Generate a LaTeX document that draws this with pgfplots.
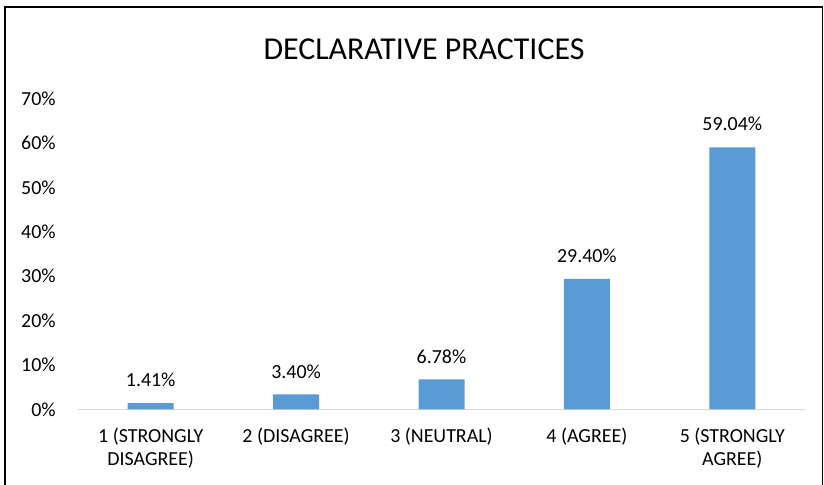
\documentclass[border=0pt]{standalone}
\usepackage{pgfplots}
\pgfplotsset{compat=1.18}
\usepackage{fontspec}
\setmainfont{Carlito}

\definecolor{barblue}{HTML}{5B9BD5}
\definecolor{gridgray}{HTML}{D9D9D9}

\begin{document}
\begin{tikzpicture}
% page area and chart frame
\path[use as bounding box] (0,0) rectangle (824bp,485bp);
\draw[line width=1.8bp] (5bp,-1bp) -- (5bp,478bp) -- (822.5bp,478bp) -- (822.5bp,-1bp);
% title
\node[anchor=base, font=\fontsize{32}{38}\selectfont] at (424bp,425bp) {DECLARATIVE PRACTICES};
\begin{axis}[
  at={(78bp,75.5bp)}, anchor=south west,
  scale only axis, width=727bp, height=310.9bp,
  xmin=-0.5, xmax=4.5, ymin=0, ymax=70,
  ybar, bar width=46bp,
  /pgf/number format/assume math mode=true,
  axis x line=bottom, axis y line=left,
  x axis line style={-, draw=gridgray, line width=1.3bp},
  y axis line style={draw=none},
  xtick style={draw=none}, ytick style={draw=none},
  ytick={0,10,...,70},
  yticklabel={\pgfmathprintnumber{\tick}\%},
  yticklabel style={font=\fontsize{20}{24}\selectfont, anchor=east, inner sep=0pt, xshift=-20bp},
  xtick=data,
  xticklabels={{1 (STRONGLY\\DISAGREE)},{2 (DISAGREE)},{3 (NEUTRAL)},{4 (AGREE)},{5 (STRONGLY\\AGREE)}},
  xticklabel style={font=\fontsize{20}{23.5}\selectfont, align=center, anchor=north, inner sep=0pt, yshift=-16bp},
  nodes near coords={\pgfmathprintnumber[fixed,fixed zerofill,precision=2]{\pgfplotspointmeta}\%},
  every node near coord/.append style={font=\fontsize{20}{24}\selectfont, black, anchor=south, inner sep=0pt, yshift=16bp},
]
\addplot[fill=barblue, draw=none] coordinates {(0,1.41) (1,3.40) (2,6.78) (3,29.40) (4,59.04)};
\end{axis}
\end{tikzpicture}
\end{document}
